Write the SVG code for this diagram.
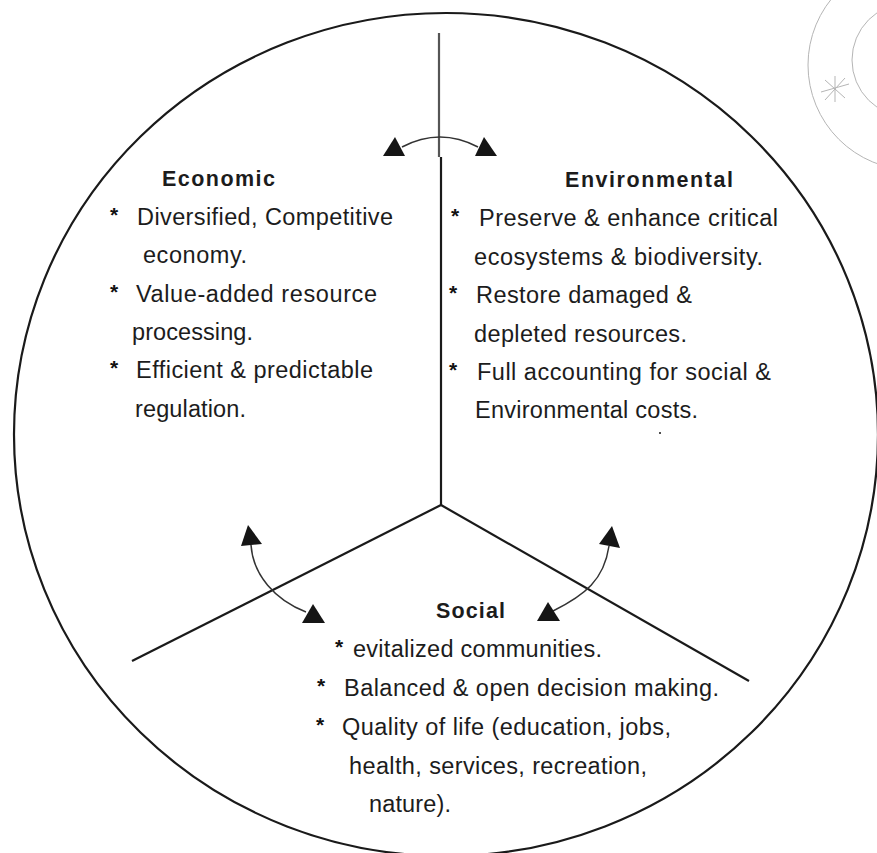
<svg xmlns="http://www.w3.org/2000/svg" width="877" height="853" viewBox="0 0 877 853">
<style>
text{font-family:"Liberation Sans",Arial,sans-serif;fill:#1c1c1c}
.b{font-size:23.5px}
.h{font-size:21.5px;font-weight:bold}
.s{font-size:21px;font-weight:bold;fill:#111}
.l{fill:none;stroke:#1a1a1a;stroke-width:2.2}
.a{fill:none;stroke:#333;stroke-width:1.5}
.t{fill:#151515}
.st{fill:none;stroke:#b5b5b5;stroke-width:1}
</style>
<rect width="877" height="853" fill="#fff"/>
<g id="stamp">
<circle class="st" cx="913" cy="65" r="105"/>
<circle class="st" cx="909" cy="60" r="57"/>
<path class="st" d="M821 92L849 84M835 76L835 102M825 80L845 98M845 78L825 100"/>
</g>
<g id="boundary"><ellipse class="l" cx="446" cy="434.5" rx="432" ry="421.5"/></g>
<g id="connectors">
<path class="l" style="stroke:#555" d="M439 33V157"/>
<path class="l" d="M441 157V505"/>
<path class="l" d="M441 505L132 661"/>
<path class="l" d="M441 505L749 681"/>
<path class="a" d="M402 147Q440 127 478 147"/>
<path class="t" d="M395 137L383 156H405Z"/>
<path class="t" d="M484 137L475 156H497Z"/>
<path class="a" d="M251 545C253 575 275 600 306 612"/>
<path class="t" d="M248 525L241 546L262 544Z"/>
<path class="t" d="M313 604L302 623H325Z"/>
<path class="a" d="M609 546C604 580 585 595 553 611"/>
<path class="t" d="M612 526L599 544L620 548Z"/>
<path class="t" d="M548 602L537 621H560Z"/>
<circle class="t" cx="660" cy="433" r="1"/>
</g>
<g id="economic">
<text class="h" x="162" y="186" textLength="113">Economic</text>
<text class="s" x="110" y="222">*</text>
<text class="b" x="137" y="225" textLength="256">Diversified, Competitive</text>
<text class="b" x="143" y="263" textLength="104">economy.</text>
<text class="s" x="110" y="299">*</text>
<text class="b" x="136" y="302" textLength="241">Value-added resource</text>
<text class="b" x="132" y="340" textLength="121">processing.</text>
<text class="s" x="110" y="375">*</text>
<text class="b" x="136" y="378" textLength="237">Efficient &amp; predictable</text>
<text class="b" x="135" y="417" textLength="111">regulation.</text>
</g>
<g id="environmental">
<text class="h" x="565" y="187" textLength="168">Environmental</text>
<text class="s" x="451" y="223">*</text>
<text class="b" x="479" y="226" textLength="299">Preserve &amp; enhance critical</text>
<text class="b" x="474" y="265" textLength="289">ecosystems &amp; biodiversity.</text>
<text class="s" x="449" y="300">*</text>
<text class="b" x="476" y="303" textLength="216">Restore damaged &amp;</text>
<text class="b" x="474" y="342" textLength="213">depleted resources.</text>
<text class="s" x="449" y="377">*</text>
<text class="b" x="477" y="380" textLength="294">Full accounting for social &amp;</text>
<text class="b" x="475" y="418" textLength="223">Environmental costs.</text>
</g>
<g id="social">
<text class="h" x="436" y="618" textLength="69">Social</text>
<text class="s" x="335" y="654">*</text>
<text class="b" x="353" y="657" textLength="249">evitalized communities.</text>
<text class="s" x="317" y="693">*</text>
<text class="b" x="344" y="696" textLength="375">Balanced &amp; open decision making.</text>
<text class="s" x="316" y="732">*</text>
<text class="b" x="342" y="735" textLength="329">Quality of life (education, jobs,</text>
<text class="b" x="349" y="774" textLength="298">health, services, recreation,</text>
<text class="b" x="369" y="812" textLength="82">nature).</text>
</g>
</svg>
